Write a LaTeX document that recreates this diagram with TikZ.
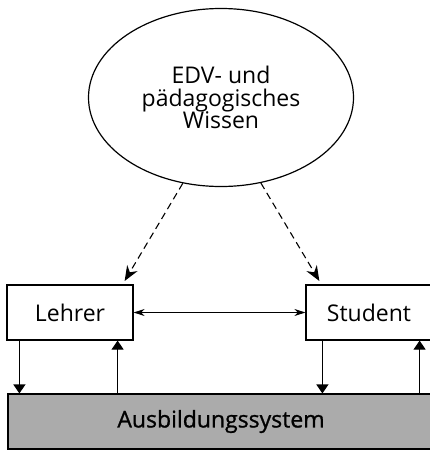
\documentclass[tikz,border=0pt]{standalone}
\usepackage{fontspec}
\setmainfont{Open Sans}
\usetikzlibrary{arrows.meta,shapes.geometric}
\begin{document}
\begin{tikzpicture}[x=1pt,y=-1pt,
  label/.style={font=\fontsize{23}{24}\selectfont},
  bubble/.style={font=\fontsize{23}{22.5}\selectfont},
  agent/.style={draw, line width=1.2pt, rectangle, inner sep=0pt, label},
  flow/.style={line width=1.1pt, -{Triangle[length=9pt,width=12pt]}},
  infl/.style={line width=1.1pt, dash pattern=on 7pt off 4.5pt, -{Stealth[length=15pt,width=12pt]}},
  talk/.style={line width=0.9pt, {Stealth[length=11pt,width=7pt]}-{Stealth[length=11pt,width=7pt]}}]
\useasboundingbox (0,0) rectangle (430,450);

% knowledge base
\node[ellipse, draw, line width=1.2pt, minimum width=265pt, minimum height=178pt,
      align=center, inner sep=0pt, bubble] (wissen) at (221,97.5)
      {EDV- und\\pädagogisches\\Wissen};

% actors
\node[agent, minimum width=126pt, minimum height=55pt] (lehrer) at (70,312.5) {Lehrer};
\node[agent, minimum width=126pt, minimum height=55pt] (student) at (369,312.5) {Student};

% training system
\node[draw, line width=1.1pt, fill=black!33, minimum width=426pt, minimum height=55pt,
      inner sep=0pt, font=\fontsize{23}{24}\selectfont\addfontfeature{FakeBold=1}]
      (system) at (221,421.5) {Ausbildungssystem};

% knowledge feeds both actors
\draw[infl, shorten >=4pt] (wissen.246) -- ([xshift=-11pt]lehrer.north east);
\draw[infl, shorten >=4pt] (wissen.295) -- ([xshift=16pt]student.north west);

% dialogue between teacher and student
\draw[talk] (lehrer.east) -- (student.west);

% exchange with the training system
\draw[flow] ([xshift=13pt]lehrer.south west) -- ([xshift=13pt]lehrer.south west |- system.north);
\draw[flow] ([xshift=-16pt]lehrer.south east |- system.north) -- ([xshift=-16pt]lehrer.south east);
\draw[flow] ([xshift=17pt]student.south west) -- ([xshift=17pt]student.south west |- system.north);
\draw[flow] ([xshift=-13pt]student.south east |- system.north) -- ([xshift=-13pt]student.south east);
\end{tikzpicture}
\end{document}
